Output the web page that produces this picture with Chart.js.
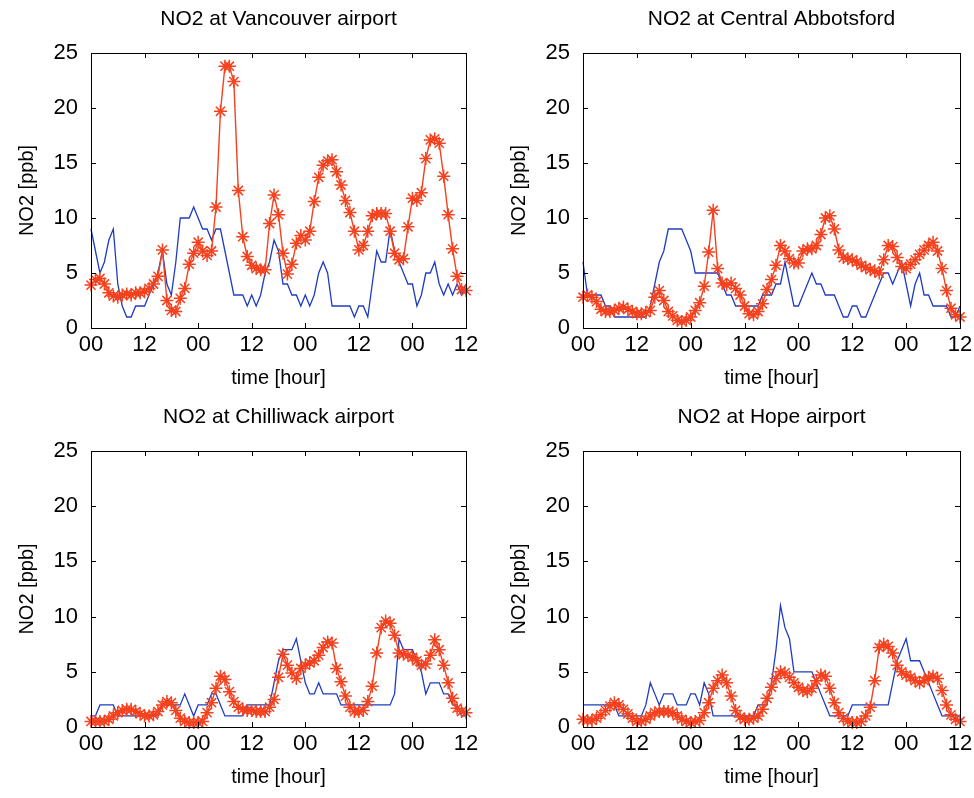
<!DOCTYPE html>
<html>
<head>
<meta charset="utf-8">
<script src="https://cdn.jsdelivr.net/npm/chart.js@4"></script>
<style>
  html, body { margin: 0; padding: 0; background: #fff; overflow: hidden; }
  body { width: 974px; height: 798px; position: relative; }
  canvas { position: absolute; }
</style>
</head>
<body>
<canvas id="c1" width="557" height="399" style="left:0px;top:0px"></canvas>
<canvas id="c2" width="559" height="399" style="left:492px;top:0px"></canvas>
<canvas id="c3" width="557" height="400" style="left:0px;top:398px"></canvas>
<canvas id="c4" width="559" height="400" style="left:492px;top:398px"></canvas>
<script>
// --- Data (hourly, 84 h) ---
const hours = [...Array(85).keys()];
const xTicks = [0, 12, 24, 36, 48, 60, 72, 84];
const xTickLabels = ['00', '12', '00', '12', '00', '12', '00', '12'];
const yTickLabels = ['0', '5', '10', '15', '20', '25'];

// blue line = observed, red line with stars = model
const vancouverObs = [9,7,5,6,8,9,4,2,1,1, 2,2,2,3,4,5,7,4,3,6, 10,10,10,11,10,9,9,8,9,9,
  7,5,3,3,3,2,3,2,3,5, 6,8,7,4,4,3,3,2,3,2, 3,5,6,5,2,2,2,2,2,1, 2,2,1,4,7,6,6,9,7,6,
  5,4,4,2,3,5,5,6,4,3, 4,3,4,3,4];
const vancouverModel = [3.9,4.4,4.5,4.0,3.2,2.9,2.8,3.0,3.1,3.0, 3.2,3.2,3.3,3.6,4.0,4.7,7.1,2.5,1.6,1.5,
  2.7,3.6,5.8,6.8,7.8,7.0,6.6,7.0,11.0,19.7, 23.8,23.8,22.4,12.5,8.3,6.5,5.7,5.4,5.3,5.3,
  9.5,12.1,10.3,6.8,4.9,5.8,7.7,8.4,8.0,8.8, 11.5,13.7,14.8,15.2,15.3,14.2,13.0,11.6,10.5,8.8,
  7.1,7.5,8.8,10.2,10.4,10.4,10.4,8.8,6.8,6.2, 6.3,9.2,11.8,11.6,12.3,15.4,17.1,17.2,16.8,13.8,
  10.3,7.2,4.7,3.5,3.4];

const abbotsfordObs = [6,3,3,3,3,2,2,1,1,1, 1,1,1,1,1,2,4,6,7,9, 9,9,9,8,7,5,5,5,5,5,
  5,4,3,3,2,2,2,2,2,2, 3,3,3,4,4,6,4,2,2,3, 4,5,4,4,3,3,3,2,1,1, 2,2,1,1,2,3,4,5,5,4,
  5,6,4,2,4,5,3,3,2,2, 2,2,1,1,2];
const abbotsfordModel = [2.8,3.0,2.8,2.4,1.7,1.5,1.5,1.6,1.8,1.9, 1.7,1.5,1.3,1.3,1.4,1.6,2.8,3.4,2.5,1.5,
  1.1,0.7,0.6,0.7,1.0,1.6,2.3,3.8,6.9,10.7, 5.4,4.1,3.9,4.1,3.6,3.0,2.0,1.3,1.2,1.5,
  2.2,3.5,4.4,5.7,7.5,7.0,6.3,5.9,5.9,7.0, 7.2,7.2,7.5,8.5,10.0,10.2,9.0,7.1,6.4,6.3,
  6.2,6.0,5.7,5.5,5.3,5.2,5.0,6.2,7.5,7.4, 6.4,5.6,5.4,5.8,6.2,6.7,7.1,7.5,7.8,7.0,
  5.4,3.4,1.8,1.2,1.0];

const chilliwackObs = [1,1,2,2,2,2,1,1,1,1, 1,1,1,1,1,1,2,2,2,2, 2,3,2,1,2,2,2,3,3,2,
  1,1,1,1,1,2,2,2,2,2, 2,4,6,7,7,7,8,6,4,3, 3,4,3,3,3,3,2,2,2,2, 2,2,2,2,2,2,2,2,3,8,
  7,7,7,6,5,3,4,4,4,3, 3,2,2,1,1];
const chilliwackModel = [0.5,0.5,0.5,0.5,0.7,1.0,1.3,1.5,1.6,1.6, 1.4,1.2,1.0,1.0,1.1,1.4,2.0,2.3,2.2,1.5,
  0.8,0.5,0.4,0.4,0.4,0.5,1.3,2.2,3.5,4.6, 4.3,3.2,2.3,1.8,1.6,1.5,1.5,1.4,1.4,1.4,
  1.8,2.5,4.5,6.6,5.6,4.9,4.4,5.3,5.6,5.8, 6.0,6.5,7.2,7.7,7.6,5.3,4.1,2.8,1.8,1.4,
  1.4,1.5,2.3,3.7,6.7,9.0,9.6,9.4,8.3,6.7, 6.6,6.5,6.3,6.0,5.6,5.7,6.5,7.9,7.0,5.6,
  4.0,2.6,1.7,1.4,1.3];

const hopeObs = [2,2,2,2,2,2,2,2,1,1, 1,1,1,1,2,4,3,2,3,3, 3,2,2,2,3,3,2,4,3,1,
  1,1,1,1,1,1,1,1,1,2, 2,2,4,7,11,9,8,5,5,5, 5,5,4,3,2,1,1,1,1,1, 2,2,2,2,2,2,2,2,2,4,
  6,7,8,6,6,6,5,4,3,2, 1,1,1,1,1];
const hopeModel = [0.7,0.6,0.6,0.8,1.1,1.5,1.9,2.2,2.0,1.6, 1.2,0.8,0.5,0.5,0.7,1.0,1.3,1.4,1.4,1.4,
  1.3,1.0,0.7,0.5,0.4,0.5,0.6,1.3,2.2,3.5, 4.2,4.7,4.0,2.8,1.5,0.9,0.7,0.7,0.8,1.0,
  1.6,2.6,3.6,4.4,5.0,4.9,4.5,4.0,3.6,3.3, 3.2,3.5,4.2,4.7,4.6,3.5,2.2,1.3,0.8,0.5,
  0.4,0.4,0.5,1.0,1.8,4.2,7.2,7.5,7.3,6.7, 5.6,5.0,4.7,4.5,4.2,4.0,4.2,4.5,4.6,4.4,
  3.3,2.0,1.1,0.7,0.5];

const panels = [
    { id: 'c1', title: 'NO2 at Vancouver airport', obs: vancouverObs, model: vancouverModel },
    { id: 'c2', title: 'NO2 at Central Abbotsford', obs: abbotsfordObs, model: abbotsfordModel },
    { id: 'c3', title: 'NO2 at Chilliwack airport', obs: chilliwackObs, model: chilliwackModel },
    { id: 'c4', title: 'NO2 at Hope airport', obs: hopeObs, model: hopeModel }
];

Chart.defaults.font.family = "'Liberation Sans', Arial, sans-serif";
Chart.defaults.color = '#000';

// MATLAB-like box with inward ticks on all four sides
const boxPlugin = {
    id: 'matlabBox',
    afterDraw(chart) {
        const { ctx, chartArea: a, scales } = chart;
        const len = 5;
        ctx.save();
        ctx.strokeStyle = '#000';
        ctx.lineWidth = 1;
        ctx.strokeRect(Math.round(a.left) + 0.5, Math.round(a.top) + 0.5,
            Math.round(a.right - a.left), Math.round(a.bottom - a.top));
        ctx.beginPath();
        scales.x.ticks.forEach(t => {
            const px = Math.round(scales.x.getPixelForValue(t.value)) + 0.5;
            ctx.moveTo(px, a.bottom); ctx.lineTo(px, a.bottom - len);
            ctx.moveTo(px, a.top); ctx.lineTo(px, a.top + len);
        });
        scales.y.ticks.forEach(t => {
            const py = Math.round(scales.y.getPixelForValue(t.value)) + 0.5;
            ctx.moveTo(a.left, py); ctx.lineTo(a.left + len, py);
            ctx.moveTo(a.right, py); ctx.lineTo(a.right - len, py);
        });
        ctx.stroke();
        ctx.restore();
    }
};

panels.forEach(p => {
    const ctx = document.getElementById(p.id).getContext('2d');
    new Chart(ctx, {
        type: 'line',
        data: {
            datasets: [
                {
                    label: 'model',
                    data: p.model.map((v, i) => ({ x: hours[i], y: v })),
                    borderColor: '#f4411e',
                    backgroundColor: '#f4411e',
                    borderWidth: 1.4,
                    pointStyle: 'star',
                    pointRadius: 6.5,
                    pointBorderWidth: 1.5,
                    pointBorderColor: '#f4411e',
                    tension: 0,
                    clip: false
                },
                {
                    label: 'observed',
                    data: p.obs.map((v, i) => ({ x: hours[i], y: v })),
                    borderColor: '#1f3cc0',
                    borderWidth: 1.3,
                    pointRadius: 0,
                    tension: 0,
                    clip: false
                }
            ]
        },
        options: {
            responsive: false,
            animation: false,
            events: [],
            layout: { padding: { left: 0, right: 91, top: 0, bottom: 0 } },
            plugins: {
                legend: { display: false },
                tooltip: { enabled: false },
                title: {
                    display: true,
                    fullSize: false,
                    text: p.title,
                    color: '#000',
                    font: { size: 21, weight: 'normal', lineHeight: 1.2 },
                    padding: { top: 7, bottom: 20.8 }
                }
            },
            scales: {
                x: {
                    type: 'linear',
                    min: 0,
                    max: 84,
                    afterFit: s => { s.height = 71; },
                    afterBuildTicks: s => { s.ticks = xTicks.map(v => ({ value: v })); },
                    grid: { display: false, drawTicks: false },
                    border: { display: false },
                    ticks: {
                        autoSkip: false,
                        maxRotation: 0,
                        padding: 4,
                        font: { size: 22 },
                        callback: (v, i) => xTickLabels[i]
                    },
                    title: {
                        display: true,
                        text: 'time [hour]',
                        font: { size: 20, lineHeight: 1.2 },
                        padding: { top: 0, bottom: 9 }
                    }
                },
                y: {
                    min: 0,
                    max: 25,
                    afterFit: s => { s.width = 91; },
                    grid: { display: false, drawTicks: false },
                    border: { display: false },
                    ticks: {
                        stepSize: 5,
                        padding: 13,
                        font: { size: 22 },
                        callback: (v, i) => yTickLabels[i]
                    },
                    title: {
                        display: true,
                        text: 'NO2 [ppb]',
                        font: { size: 20, lineHeight: 1.2 },
                        padding: { top: 15, bottom: 0 }
                    }
                }
            }
        },
        plugins: [boxPlugin]
    });
});
</script>
</body>
</html>
